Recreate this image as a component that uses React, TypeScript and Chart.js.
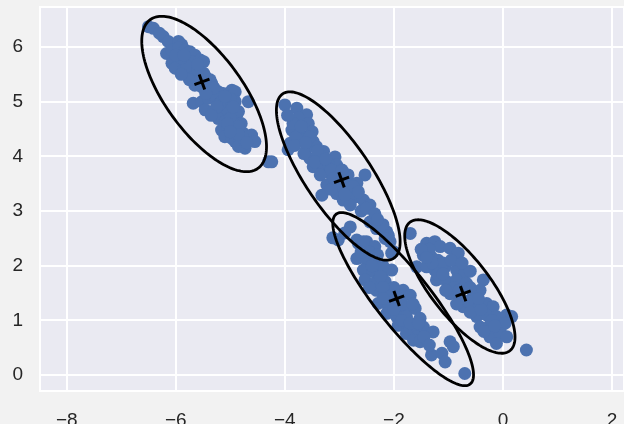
import React, { useEffect, useRef } from "react";
import { Chart, registerables } from "chart.js";

Chart.register(...registerables);

// Cluster points: [x, y]
const cluster1: [number, number][] = [
  [-6.5, 6.37], [-6.41, 6.34], [-6.23, 6.19], [-6.14, 6.1], [-5.95, 6.1], [-5.89, 6.04], [-6.17, 5.88],
  [-6.07, 5.94], [-5.95, 5.98], [-5.83, 5.94], [-5.74, 5.91], [-5.65, 5.85], [-6.07, 5.7], [-5.95, 5.73],
  [-5.83, 5.79], [-5.71, 5.73], [-5.55, 5.76], [-5.49, 5.73], [-6.01, 5.61], [-5.86, 5.58], [-5.74, 5.55],
  [-5.62, 5.49], [-5.49, 5.52], [-5.37, 5.4], [-5.65, 5.3], [-5.52, 5.27], [-5.34, 5.33], [-5.22, 5.18],
  [-5.13, 5.15], [-4.97, 5.21], [-4.91, 5.18], [-5.68, 4.97], [-5.52, 5.0], [-5.4, 5.06], [-5.28, 5.09],
  [-5.16, 5.0], [-5.07, 4.94], [-4.91, 5.0], [-5.46, 4.85], [-5.31, 4.82], [-5.16, 4.85], [-5.04, 4.82],
  [-4.88, 4.76], [-4.67, 5.0], [-5.22, 4.69], [-5.1, 4.63], [-4.94, 4.66], [-4.85, 4.82], [-5.16, 4.48],
  [-5.04, 4.51], [-4.91, 4.45], [-5.1, 4.36], [-4.97, 4.33], [-4.91, 4.27], [-4.76, 4.42], [-4.61, 4.39],
  [-4.55, 4.27], [-4.85, 4.18], [-4.73, 4.15], [-4.76, 4.33], [-4.3, 3.9], [-5.8, 5.65], [-5.6, 5.62],
  [-5.45, 5.45], [-5.0, 5.05], [-4.8, 4.6], [-5.0, 4.7], [-4.85, 4.55], [-5.9, 5.8], [-5.75, 5.4], [-5.2, 4.95],
  [-6.3, 6.25], [-6.0, 5.85], [-5.85, 5.85], [-5.6, 5.68], [-5.9, 5.5], [-5.55, 5.4], [-5.3, 5.25],
  [-5.45, 5.15], [-5.1, 5.1], [-5.25, 4.9], [-4.95, 4.9], [-5.35, 4.75], [-5.05, 4.6], [-4.85, 4.4],
  [-5.0, 4.45], [-4.7, 4.25],
];

const cluster2: [number, number][] = [
  [-4.0, 4.94], [-3.78, 4.88], [-3.6, 4.76], [-3.75, 4.7], [-3.57, 4.6], [-3.87, 4.48], [-3.72, 4.42],
  [-3.9, 4.24], [-3.94, 4.12], [-3.69, 4.3], [-3.48, 4.27], [-3.42, 4.18], [-3.6, 4.15], [-3.29, 4.09],
  [-3.54, 3.96], [-3.35, 3.93], [-3.08, 3.99], [-3.05, 3.84], [-3.48, 3.81], [-3.29, 3.75], [-3.17, 3.69],
  [-3.35, 3.66], [-2.84, 3.66], [-2.53, 3.66], [-3.23, 3.48], [-3.08, 3.51], [-2.68, 3.51], [-2.8, 3.38],
  [-3.32, 3.29], [-3.05, 3.32], [-2.93, 3.2], [-2.71, 3.26], [-2.56, 3.2], [-2.44, 3.11], [-2.8, 3.11],
  [-4.24, 3.9], [-3.8, 4.35], [-3.65, 4.05], [-3.4, 4.0], [-3.2, 3.85], [-3.0, 3.6], [-2.95, 3.45],
  [-3.15, 3.4], [-2.6, 3.0], [-2.44, 2.8], [-2.32, 2.68], [-2.13, 2.62], [-2.07, 2.44], [-2.01, 2.26],
  [-3.85, 4.6], [-3.5, 4.45], [-3.95, 4.75], [-3.7, 4.55], [-3.82, 4.2], [-3.55, 4.35], [-3.62, 4.25],
  [-3.4, 4.1], [-3.45, 3.9], [-3.25, 3.95], [-3.15, 3.75], [-2.95, 3.75], [-3.1, 3.6], [-2.9, 3.55],
  [-2.75, 3.45], [-2.9, 3.3], [-2.65, 3.35], [-2.5, 3.05], [-2.35, 2.95], [-2.2, 2.75], [-2.3, 2.85],
  [-2.1, 2.55],
];

const cluster3: [number, number][] = [
  [-3.02, 2.47], [-2.8, 2.71], [-2.65, 2.41], [-2.5, 2.44], [-2.35, 2.35], [-2.16, 2.5], [-2.04, 2.23],
  [-2.68, 2.13], [-2.5, 2.1], [-2.32, 2.1], [-2.56, 1.92], [-2.38, 1.89], [-2.19, 1.89], [-2.04, 1.92],
  [-2.53, 1.74], [-2.35, 1.68], [-2.16, 1.71], [-2.32, 1.55], [-2.13, 1.49], [-1.83, 1.55], [-1.7, 1.46],
  [-2.29, 1.31], [-2.1, 1.25], [-1.95, 1.25], [-1.77, 1.19], [-1.61, 1.22], [-2.13, 1.13], [-1.95, 1.07],
  [-1.77, 1.07], [-1.52, 1.04], [-1.92, 0.91], [-1.74, 0.88], [-1.58, 0.85], [-1.46, 0.88], [-1.77, 0.76],
  [-1.58, 0.7], [-1.28, 0.79], [-1.64, 0.64], [-1.52, 0.61], [-1.31, 0.37], [-1.12, 0.4], [-0.97, 0.61],
  [-0.91, 0.52], [-1.06, 0.24], [-0.7, 0.03], [-3.12, 2.51], [-2.68, 2.47], [-2.56, 2.44], [-2.2, 2.0],
  [-2.0, 1.6], [-1.9, 1.4], [-2.05, 1.35], [-1.85, 1.0], [-2.45, 2.25], [-2.9, 2.6], [-2.6, 2.25],
  [-2.4, 2.0], [-2.25, 1.8], [-2.45, 1.6], [-2.2, 1.6], [-2.05, 1.45], [-2.2, 1.4], [-1.85, 1.3],
  [-1.65, 1.3], [-2.0, 1.2], [-1.7, 0.95], [-1.55, 0.95], [-1.45, 0.7], [-2.3, 2.2], [-1.35, 0.55],
];

const cluster4: [number, number][] = [
  [-1.7, 2.59], [-1.4, 2.41], [-1.25, 2.44], [-1.15, 2.35], [-0.97, 2.32], [-0.82, 2.23], [-1.46, 2.19],
  [-1.31, 2.16], [-1.19, 2.1], [-1.58, 1.98], [-1.4, 1.98], [-1.25, 1.92], [-1.06, 1.98], [-0.85, 1.92],
  [-0.7, 1.86], [-1.22, 1.74], [-1.03, 1.71], [-0.85, 1.74], [-0.67, 1.68], [-0.36, 1.74], [-0.97, 1.49],
  [-0.79, 1.43], [-0.54, 1.49], [-0.42, 1.55], [-0.73, 1.25], [-0.54, 1.28], [-0.3, 1.31], [-0.18, 1.25],
  [-0.48, 1.07], [-0.3, 1.1], [-0.12, 1.07], [0.07, 1.1], [0.16, 1.07], [-0.42, 0.88], [-0.24, 0.91],
  [-0.05, 0.85], [0.04, 0.95], [-0.24, 0.7], [-0.05, 0.76], [0.07, 0.7], [-0.12, 0.58], [0.43, 0.46],
  [-1.1, 2.05], [-0.9, 1.6], [-0.65, 1.35], [-1.35, 2.3], [-0.6, 1.9], [-1.2, 1.85], [-1.5, 2.3],
  [-1.3, 2.05], [-1.1, 1.85], [-0.95, 2.1], [-0.75, 2.05], [-1.05, 1.55], [-0.8, 1.55], [-0.6, 1.6],
  [-0.85, 1.3], [-0.6, 1.15], [-0.4, 1.2], [-0.2, 1.0], [-0.35, 0.8], [-0.15, 0.9], [-0.45, 1.4],
  [-1.4, 2.15],
];

// Fitted component centres (the "+" marks)
const centerX = [-5.52, -2.96, -1.95, -0.73];
const centerY = [5.36, 3.57, 1.4, 1.49];

// Covariance ellipses (data units, angle in degrees from +x)
const ellipseCX = [-5.48, -3.02, -1.83, -0.79];
const ellipseCY = [5.14, 3.64, 1.39, 1.62];
const ellipseSemiMajor = [1.68, 1.815, 1.98, 1.49];
const ellipseSemiMinor = [0.71, 0.6, 0.5, 0.54];
const ellipseAngle = [-53.9, -55.8, -51.6, -52];

const xTicks = [-8, -6, -4, -2, 0, 2];
const yTicks = [0, 1, 2, 3, 4, 5, 6];

const allPoints = [...cluster1, ...cluster2, ...cluster3, ...cluster4];

const FONT = "'Liberation Sans', Arial, sans-serif";

export default function App() {
  const ref = useRef<HTMLCanvasElement | null>(null);

  useEffect(() => {
    if (!ref.current) return;

    const decorPlugin = {
      id: "decor",
      beforeDraw(chart: any) {
        const { ctx, chartArea } = chart;
        ctx.save();
        ctx.fillStyle = "#f2f2f2";
        ctx.fillRect(0, 0, chart.width, chart.height);
        ctx.fillStyle = "#eaeaf2";
        ctx.fillRect(chartArea.left, chartArea.top, chartArea.right - chartArea.left, chartArea.bottom - chartArea.top);
        ctx.restore();
      },
      beforeDatasetsDraw(chart: any) {
        const { ctx, chartArea } = chart;
        ctx.save();
        ctx.strokeStyle = "#ffffff";
        ctx.lineWidth = 2;
        ctx.strokeRect(chartArea.left, chartArea.top, chartArea.right - chartArea.left, chartArea.bottom - chartArea.top);
        ctx.restore();
      },
      afterDatasetDraw(chart: any, args: any) {
        if (args.index !== 0) return;
        const { ctx } = chart;
        const xs = chart.scales.x;
        const ys = chart.scales.y;
        ctx.save();
        ctx.strokeStyle = "#000000";
        ctx.lineWidth = 2.8;
        for (let i = 0; i < ellipseCX.length; i++) {
          const phi = (ellipseAngle[i] * Math.PI) / 180;
          const a = ellipseSemiMajor[i];
          const b = ellipseSemiMinor[i];
          ctx.beginPath();
          const n = 180;
          for (let k = 0; k <= n; k++) {
            const t = (k / n) * Math.PI * 2;
            const dx = a * Math.cos(t) * Math.cos(phi) - b * Math.sin(t) * Math.sin(phi);
            const dy = a * Math.cos(t) * Math.sin(phi) + b * Math.sin(t) * Math.cos(phi);
            const px = xs.getPixelForValue(ellipseCX[i] + dx);
            const py = ys.getPixelForValue(ellipseCY[i] + dy);
            if (k === 0) ctx.moveTo(px, py);
            else ctx.lineTo(px, py);
          }
          ctx.closePath();
          ctx.stroke();
        }
        ctx.restore();
      },
    };

    const fmt = (v: any) => String(v).replace("-", "\u2212");
    const zeroPad = (s: any) => {
      s.paddingTop = 0;
      s.paddingBottom = 0;
      s.paddingLeft = 0;
      s.paddingRight = 0;
    };

    const chart = new Chart(ref.current, {
      type: "scatter",
      data: {
        datasets: [
          {
            data: allPoints.map(([x, y]) => ({ x, y })),
            backgroundColor: "#4c72b0",
            borderWidth: 0,
            pointRadius: 6.5,
            order: 2,
          },
          {
            data: centerX.map((x, i) => ({ x, y: centerY[i] })),
            pointStyle: "cross",
            rotation: -20,
            borderColor: "#000000",
            borderWidth: 3,
            pointRadius: 8,
            order: 1,
          },
        ],
      },
      options: {
        animation: false,
        responsive: true,
        maintainAspectRatio: false,
        layout: { autoPadding: false, padding: { top: 7, left: 0, right: 0, bottom: 0 } },
        plugins: { legend: { display: false }, tooltip: { enabled: false } },
        scales: {
          x: {
            type: "linear",
            min: -8.49,
            max: 2.22,
            afterBuildTicks: (s: any) => {
              s.ticks = xTicks.map((v) => ({ value: v }));
            },
            afterFit: (s: any) => {
              s.height = 33;
              zeroPad(s);
            },
            ticks: {
              callback: fmt,
              color: "#262626",
              padding: 18,
              font: { family: FONT, size: 19 },
              maxRotation: 0,
            },
            grid: { color: "#ffffff", lineWidth: 2, drawTicks: false },
            border: { display: false },
          },
          y: {
            type: "linear",
            min: -0.29,
            max: 6.73,
            afterBuildTicks: (s: any) => {
              s.ticks = yTicks.map((v) => ({ value: v }));
            },
            afterFit: (s: any) => {
              s.width = 40;
              zeroPad(s);
            },
            ticks: {
              callback: fmt,
              color: "#262626",
              padding: 17,
              font: { family: FONT, size: 19 },
            },
            grid: { color: "#ffffff", lineWidth: 2, drawTicks: false },
            border: { display: false },
          },
        },
      },
      plugins: [decorPlugin],
    });

    return () => chart.destroy();
  }, []);

  return (
    <div style={{ position: "fixed", left: 0, top: 0, width: 624, height: 424, background: "#f2f2f2" }}>
      <canvas ref={ref} />
    </div>
  );
}
